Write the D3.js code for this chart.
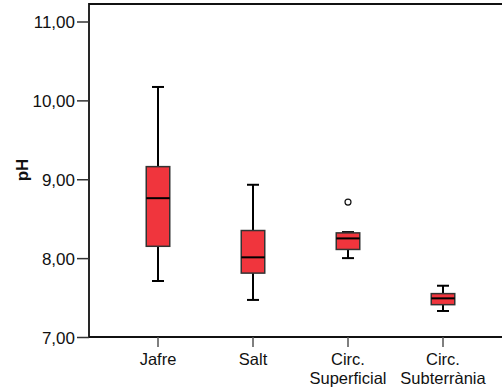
<!DOCTYPE html>
<html lang="en">
<head>
    <meta charset="UTF-8" />
    <title>pH boxplot</title>
    <script src="https://d3js.org/d3.v7.min.js"></script>
    <style>
        body { margin: 0; background: #fff; }
        text { font-family: "Liberation Sans", Arial, sans-serif; fill: #111; }
    </style>
</head>
<body>
<svg id="chart" width="502" height="391"></svg>
<script>
    // categories (two-line labels)
    const categories = ["Jafre", "Salt", "Circ. Superficial", "Circ. Subterrània"];
    const labelLines = [["Jafre"], ["Salt"], ["Circ.", "Superficial"], ["Circ.", "Subterrània"]];

    // box statistics
    const whiskerLow  = [7.71, 7.47, 8.00, 7.33];
    const q1          = [8.15, 7.81, 8.11, 7.41];
    const median      = [8.76, 8.01, 8.25, 7.49];
    const q3          = [9.16, 8.35, 8.32, 7.55];
    const whiskerHigh = [10.17, 8.93, 8.33, 7.65];
    const outliers    = [[], [], [8.71], []];

    const yTicks = [7, 8, 9, 10, 11];

    const svg = d3.select("#chart");

    const x = d3.scaleBand()
        .domain(categories)
        .range([110.5, 490.5])
        .padding(0);

    const y = d3.scaleLinear()
        .domain([7, 11])
        .range([337, 21.5]);

    const plotLeft = 89, plotTop = 4, plotRight = 540;
    const boxW = 23.5, capW = 12;

    // frame
    svg.append("path")
        .attr("d", `M${plotRight},${plotTop}H${plotLeft}V${y(7)}H${plotRight}`)
        .attr("fill", "none")
        .attr("stroke", "#111")
        .attr("stroke-width", 1.8);

    // y axis
    const yAxis = d3.axisLeft(y)
        .tickValues(yTicks)
        .tickSize(12)
        .tickPadding(2)
        .tickFormat(d => d3.format(".2f")(d).replace(".", ","));

    const gy = svg.append("g")
        .attr("transform", `translate(${plotLeft},0)`)
        .call(yAxis);
    gy.select(".domain").remove();
    gy.selectAll(".tick line").attr("stroke", "#333").attr("stroke-width", 1.5);
    gy.selectAll(".tick text")
        .attr("font-size", 17)
        .attr("fill", "#111")
        .attr("dy", "0.36em");

    // x axis ticks
    const gx = svg.append("g")
        .attr("transform", `translate(0,${y(7)})`)
        .call(d3.axisBottom(x).tickSize(10).tickFormat(""));
    gx.select(".domain").remove();
    gx.selectAll(".tick line").attr("stroke", "#555").attr("stroke-width", 1.5);

    // x labels, one text per line
    categories.forEach((c, i) => {
        const cx = x(c) + x.bandwidth() / 2;
        labelLines[i].forEach((line, j) => {
            svg.append("text")
                .attr("x", cx)
                .attr("y", 365 + j * 19)
                .attr("text-anchor", "middle")
                .attr("font-size", 16.5)
                .text(line);
        });
    });

    // y title
    svg.append("text")
        .attr("transform", "translate(28,170) rotate(-90)")
        .attr("text-anchor", "middle")
        .attr("font-size", 17)
        .attr("font-weight", "bold")
        .text("pH");

    // boxes
    categories.forEach((c, i) => {
        const cx = x(c) + x.bandwidth() / 2;
        const g = svg.append("g");

        // whiskers
        g.append("line")
            .attr("x1", cx).attr("x2", cx)
            .attr("y1", y(whiskerHigh[i])).attr("y2", y(q3[i]))
            .attr("stroke", "#000").attr("stroke-width", 2);
        g.append("line")
            .attr("x1", cx).attr("x2", cx)
            .attr("y1", y(q1[i])).attr("y2", y(whiskerLow[i]))
            .attr("stroke", "#000").attr("stroke-width", 2);
        [whiskerHigh[i], whiskerLow[i]].forEach(v => {
            g.append("line")
                .attr("x1", cx - capW / 2).attr("x2", cx + capW / 2)
                .attr("y1", y(v)).attr("y2", y(v))
                .attr("stroke", "#000").attr("stroke-width", 2);
        });

        // box
        g.append("rect")
            .attr("x", cx - boxW / 2)
            .attr("y", y(q3[i]))
            .attr("width", boxW)
            .attr("height", y(q1[i]) - y(q3[i]))
            .attr("fill", "#f0353d")
            .attr("stroke", "#333")
            .attr("stroke-width", 1.5);

        // median
        g.append("line")
            .attr("x1", cx - boxW / 2).attr("x2", cx + boxW / 2)
            .attr("y1", y(median[i])).attr("y2", y(median[i]))
            .attr("stroke", "#000").attr("stroke-width", 2);

        // outliers
        outliers[i].forEach(v => {
            g.append("circle")
                .attr("cx", cx).attr("cy", y(v))
                .attr("r", 3)
                .attr("fill", "#fff")
                .attr("stroke", "#111")
                .attr("stroke-width", 1.2);
        });
    });
</script>
</body>
</html>
